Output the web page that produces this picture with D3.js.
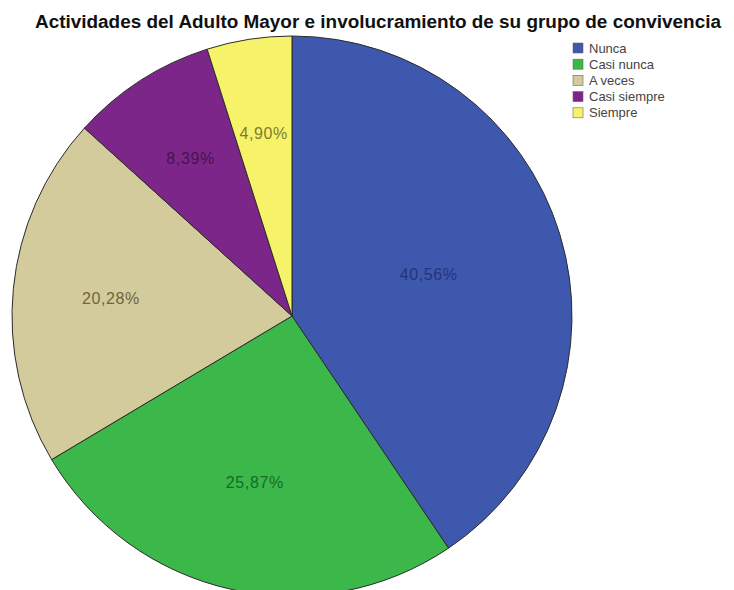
<!DOCTYPE html>
<html>
<head>
<meta charset="utf-8">
<script src="https://cdn.jsdelivr.net/npm/d3@7"></script>
<style>
  html, body { margin: 0; padding: 0; background: #fff; }
  svg { display: block; font-family: "Liberation Sans", Arial, sans-serif; }
</style>
</head>
<body>
<svg id="chart" width="734" height="590"></svg>
<script>
// Categories and their shares (%)
const categories = ["Nunca", "Casi nunca", "A veces", "Casi siempre", "Siempre"];
const percents = [40.56, 25.87, 20.28, 8.39, 4.90];
const labels = ["40,56%", "25,87%", "20,28%", "8,39%", "4,90%"];
const sliceColors = ["#3e58ad", "#3cb84a", "#d3cb9b", "#7c2689", "#f6f36a"];
const labelColors = ["#25357a", "#19692a", "#6c6641", "#48134f", "#807c30"];

const title = "Actividades del Adulto Mayor e involucramiento de su grupo de convivencia";

const svg = d3.select("#chart");
const cx = 292, cy = 316, R = 280;
// radial position of each label, as a fraction of the radius
const labelRadius = [0.51, 0.61, 0.65, 0.67, 0.66];

const pie = d3.pie().sort(null).value(d => d)(percents);
const arc = d3.arc().innerRadius(0).outerRadius(R);

const g = svg.append("g").attr("transform", `translate(${cx},${cy})`);

g.selectAll("path.slice")
  .data(pie)
  .join("path")
  .attr("class", "slice")
  .attr("d", arc)
  .attr("fill", (d, i) => sliceColors[i])
  .attr("stroke", "#2b2b2b")
  .attr("stroke-width", 1);

g.selectAll("text.lbl")
  .data(pie)
  .join("text")
  .attr("class", "lbl")
  .attr("transform", (d, i) => {
    const a = (d.startAngle + d.endAngle) / 2;
    const r = R * labelRadius[i];
    return `translate(${r * Math.sin(a)},${-r * Math.cos(a)})`;
  })
  .attr("text-anchor", "middle")
  .attr("dy", "0.35em")
  .attr("font-size", 16)
  .attr("letter-spacing", 0.6)
  .attr("fill", (d, i) => labelColors[i])
  .text((d, i) => labels[i]);

// Title
svg.append("text")
  .attr("x", 378)
  .attr("y", 28)
  .attr("text-anchor", "middle")
  .attr("font-weight", "bold")
  .attr("font-size", 18)
  .attr("textLength", 686)
  .attr("lengthAdjust", "spacingAndGlyphs")
  .attr("fill", "#111")
  .text(title);

// Legend
const legend = svg.append("g").attr("transform", "translate(573,43)");
const rows = legend.selectAll("g")
  .data(categories)
  .join("g")
  .attr("transform", (d, i) => `translate(0,${i * 16.2})`);
rows.append("rect")
  .attr("width", 10).attr("height", 10)
  .attr("fill", (d, i) => sliceColors[i])
  .attr("stroke", "#666").attr("stroke-width", 0.6);
rows.append("text")
  .attr("x", 16).attr("y", 9.5)
  .attr("font-size", 13)
  .attr("fill", "#444")
  .text(d => d);
</script>
</body>
</html>
